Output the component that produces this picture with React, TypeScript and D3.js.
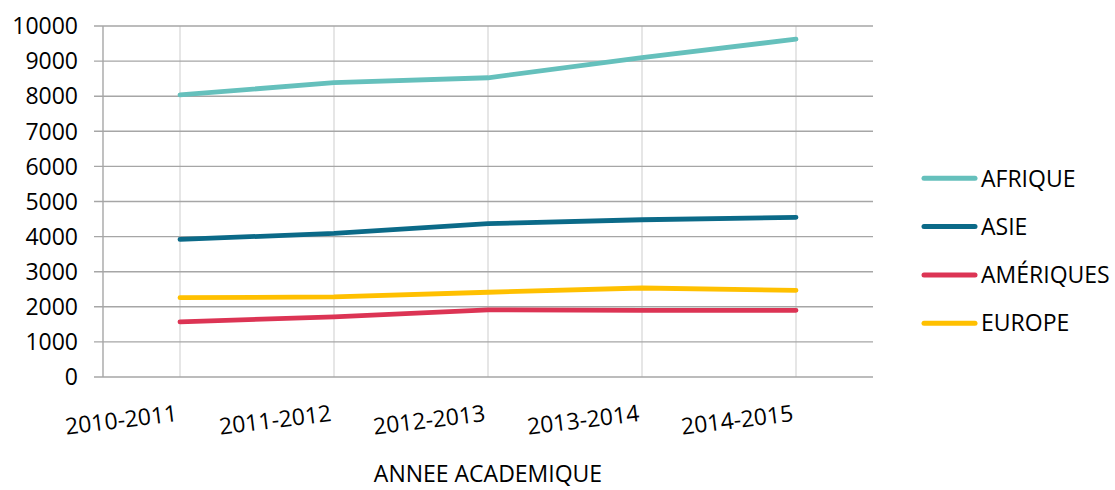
import * as d3 from "d3";

const categories = ["2010-2011", "2011-2012", "2012-2013", "2013-2014", "2014-2015"];
const seriesNames = ["AFRIQUE", "ASIE", "AMÉRIQUES", "EUROPE"];
const afrique = [8040, 8385, 8525, 9100, 9625];
const asie = [3920, 4090, 4370, 4480, 4550];
const ameriques = [1570, 1715, 1915, 1900, 1900];
const europe = [2260, 2280, 2415, 2535, 2470];
const yTicks = [0, 1000, 2000, 3000, 4000, 5000, 6000, 7000, 8000, 9000, 10000];
const colors = ["#65c0bc", "#0b6a88", "#dc3454", "#ffc000"];

const seriesValues = [afrique, asie, ameriques, europe];

const width = 1115;
const height = 490;
const font = "'Open Sans', sans-serif";

const App = () => {
  const xScale = d3.scaleBand().domain(categories).range([103, 873]);
  const yScale = d3.scaleLinear().domain([0, 10000]).range([377, 26]);
  const cx = (c: string) => xScale(c)! + xScale.bandwidth() / 2;

  const line = d3
    .line<number>()
    .x((_, i) => cx(categories[i]))
    .y((v) => yScale(v));

  return (
    <svg
      width={width}
      height={height}
      style={{ position: "absolute", left: 0, top: 0, background: "#fff" }}
    >
      {/* vertical gridlines */}
      {categories.map((c) => (
        <line
          key={c}
          x1={cx(c)}
          x2={cx(c)}
          y1={yScale(10000)}
          y2={yScale(0)}
          stroke="#d9d9d9"
          strokeWidth={1.3}
        />
      ))}
      {/* horizontal gridlines */}
      {yTicks.map((t) => (
        <g key={t}>
          <line
            x1={94}
            x2={873}
            y1={yScale(t)}
            y2={yScale(t)}
            stroke="#a6a6a6"
            strokeWidth={1.4}
          />
          <text
            x={78}
            y={yScale(t)}
            dy="0.36em"
            textAnchor="end"
            fontFamily={font}
            fontSize={23}
            fill="#000"
          >
            {t}
          </text>
        </g>
      ))}
      <line x1={103} x2={103} y1={yScale(10000)} y2={yScale(0)} stroke="#a6a6a6" strokeWidth={1.4} />

      {/* series */}
      {seriesValues.map((vals, i) => (
        <path
          key={seriesNames[i]}
          d={line(vals)!}
          fill="none"
          stroke={colors[i]}
          strokeWidth={4.8}
          strokeLinecap="round"
          strokeLinejoin="round"
        />
      ))}

      {/* x tick labels */}
      {categories.map((c) => (
        <text
          key={c}
          transform={`translate(${cx(c) - 2},421) rotate(-7)`}
          textAnchor="end"
          fontFamily={font}
          fontSize={23}
          fill="#000"
        >
          {c}
        </text>
      ))}

      <text x={488} y={482} textAnchor="middle" fontFamily={font} fontSize={23} fill="#000">
        ANNEE ACADEMIQUE
      </text>

      {/* legend */}
      {seriesNames.map((name, i) => (
        <g key={name} transform={`translate(0,${178.3 + i * 48.3})`}>
          <line x1={924} x2={975} y1={0} y2={0} stroke={colors[i]} strokeWidth={5} strokeLinecap="round" />
          <text x={981} y={0} dy="0.36em" fontFamily={font} fontSize={23} fill="#000">
            {name}
          </text>
        </g>
      ))}
    </svg>
  );
};

export default App;
